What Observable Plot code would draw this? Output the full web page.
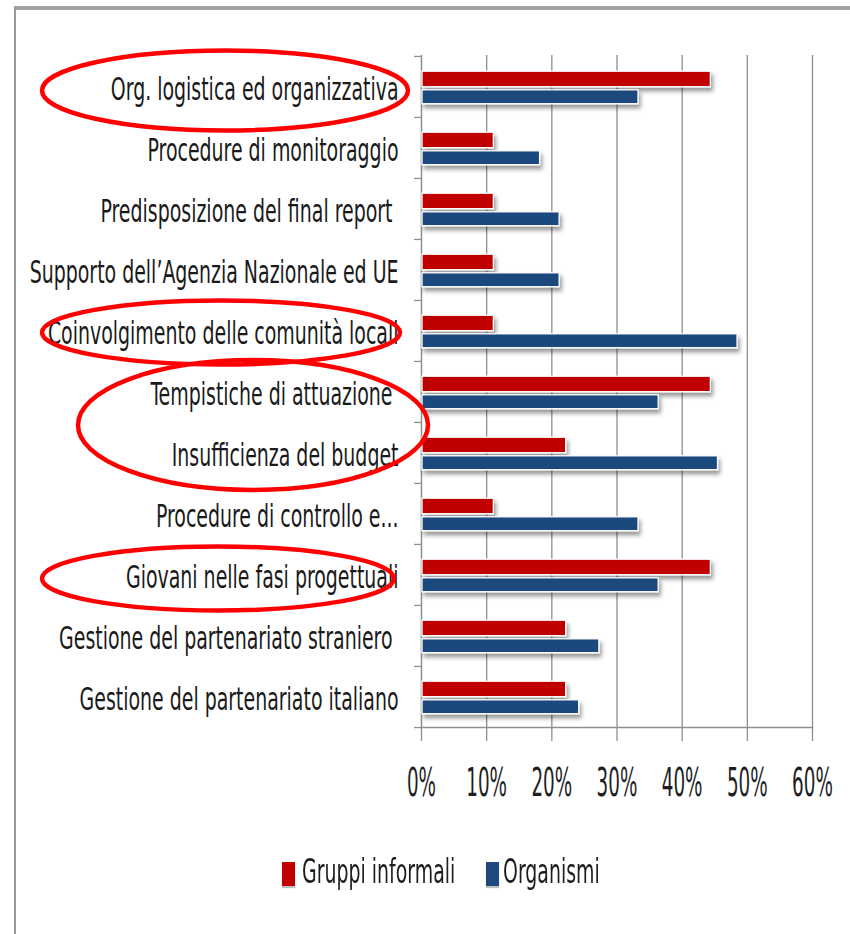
<!DOCTYPE html>
<html>
<head>
<meta charset="utf-8">
<script src="https://cdn.jsdelivr.net/npm/d3@7"></script>
<script src="https://cdn.jsdelivr.net/npm/@observablehq/plot@0.6"></script>
<style>
  html, body { margin: 0; padding: 0; background: #fff; }
  #wrap { position: relative; width: 850px; height: 934px; overflow: hidden; background: #fff; }
  #chart { position: absolute; left: 0; top: 0; }
  #frame { position: absolute; left: 14px; top: 6px; width: 900px; height: 1000px;
           border-top: 4px solid #a2a2a2; border-left: 2px solid #9a9a9a; pointer-events: none; }
  #legend { position: absolute; left: 0; top: 850px; width: 850px; height: 46px;
            font-family: "Liberation Sans Narrow", "Arial Narrow", "DejaVu Sans Condensed", sans-serif;
            font-size: 26px; color: #1e1e1e; }
  #legend .sw { position: absolute; top: 12px; width: 13px; height: 24px;
                box-shadow: 0 2px 1px rgba(0,0,0,0.25); }
  #legend .lab { position: absolute; top: 6px; line-height: 30px; white-space: nowrap;
                 transform: scale(0.81, 1.3); transform-origin: left center; }
</style>
</head>
<body>
<div id="wrap">
  <div id="chart"></div>
  <div id="legend"></div>
  <div id="frame"></div>
</div>
<script>
// ---- data ----
const categories = [
  "Org. logistica ed organizzativa",
  "Procedure di monitoraggio",
  "Predisposizione del final report ",
  "Supporto dell’Agenzia Nazionale ed UE",
  "Coinvolgimento delle comunità locali",
  "Tempistiche di attuazione ",
  "Insufficienza del budget",
  "Procedure di controllo e...",
  "Giovani nelle fasi progettuali",
  "Gestione del partenariato straniero ",
  "Gestione del partenariato italiano"
];
const gruppiInformali = [44.4, 11.1, 11.1, 11.1, 11.1, 44.4, 22.2, 11.1, 44.4, 22.2, 22.2];
const organismi       = [33.3, 18.2, 21.2, 21.2, 48.5, 36.4, 45.5, 33.3, 36.4, 27.3, 24.2];
const seriesNames = ["Gruppi informali", "Organismi"];
const seriesColors = ["#C00000", "#1F497D"];
const xTicks = [0, 0.1, 0.2, 0.3, 0.4, 0.5, 0.6];
// highlighted categories (red hand-drawn ellipses)
const highlights = [
  ["Org. logistica ed organizzativa"],
  ["Coinvolgimento delle comunità locali"],
  ["Tempistiche di attuazione ", "Insufficienza del budget"],
  ["Giovani nelle fasi progettuali"]
];

const rows = categories.map((c, i) => ({cat: c, g: gruppiInformali[i] / 100, o: organismi[i] / 100}));

const FONT = `"Liberation Sans Narrow", "Arial Narrow", "DejaVu Sans Condensed", sans-serif`;
const GRID = "#8f8f8f";

const plot = Plot.plot({
  width: 850,
  height: 850,
  marginLeft: 421,
  marginRight: 38,
  marginTop: 55,
  marginBottom: 123,
  style: {fontFamily: FONT, background: "transparent", overflow: "visible"},
  x: {domain: [0, 0.6]},
  y: {domain: categories, padding: 0},
  marks: [
    Plot.ruleX(xTicks.slice(1), {stroke: GRID, strokeWidth: 1.3}),
    Plot.frame({anchor: "bottom", stroke: GRID, strokeWidth: 1.5}),
    Plot.ruleX([0], {stroke: GRID, strokeWidth: 1.5}),
    Plot.axisX({ticks: xTicks, tickFormat: d3.format(".0%"), tickSize: 14, tickPadding: 26,
                stroke: GRID, strokeWidth: 1.3, fontSize: 24, fill: "#1e1e1e", label: null}),
    Plot.axisY({tickSize: 7, tickFormat: () => "", dy: -672 / 22, stroke: GRID, strokeWidth: 1.3, label: null}),
    Plot.axisY({ticks: [categories[categories.length - 1]], tickSize: 7, tickFormat: () => "",
                dy: 672 / 22, stroke: GRID, strokeWidth: 1.3, label: null}),
    Plot.axisY({tickSize: 0, tickPadding: 23, fontSize: 26, fill: "#1a1a1a", label: null, dy: 3}),
    Plot.barX(rows, {x: "g", y: "cat", fill: seriesColors[0], stroke: "white", strokeWidth: 1.3,
                     insetTop: 15.2, insetBottom: 30.3, insetLeft: 1}),
    Plot.barX(rows, {x: "o", y: "cat", fill: seriesColors[1], stroke: "white", strokeWidth: 1.3,
                     insetTop: 33.8, insetBottom: 13.3, insetLeft: 1})
  ]
});

// drop shadow on bars
const svg = d3.select(plot);
const defs = svg.insert("defs", ":first-child");
const f = defs.append("filter").attr("id", "shadow").attr("x", "-5%").attr("y", "-50%").attr("width", "115%").attr("height", "250%");
f.append("feDropShadow").attr("dx", 2).attr("dy", 4).attr("stdDeviation", 2.2)
  .attr("flood-color", "#000").attr("flood-opacity", 0.4);
svg.selectAll("g[aria-label='bar']").attr("filter", "url(#shadow)");

// squeeze/stretch tick labels (the original is a horizontally squeezed image)
function stretch(sel, sx, sy) {
  plot.querySelectorAll(sel).forEach(t => {
    let tr = t.getAttribute("transform");
    if (!tr) {
      const x = +t.getAttribute("x") || 0, y = +t.getAttribute("y") || 0;
      t.removeAttribute("x"); t.removeAttribute("y");
      tr = `translate(${x},${y})`;
    }
    t.setAttribute("transform", tr + ` scale(${sx},${sy})`);
  });
}
stretch("g[aria-label='y-axis tick label'] text", 0.81, 1.25);
stretch("g[aria-label='x-axis tick label'] text", 0.85, 1.65);

// red annotation ellipses around highlighted labels
const yS = plot.scale("y");
const bw = yS.bandwidth;
const ellSpec = [
  {cx: 225, dy: 4, rx: 183, ry: 40},
  {cx: 221, dy: 2, rx: 179, ry: 32},
  {cx: 253, dy: 3, rx: 175, ry: 65},
  {cx: 218, dy: 4, rx: 176, ry: 32}
];
const ann = svg.append("g").attr("aria-label", "annotations");
highlights.forEach((cats, i) => {
  const cs = cats.map(c => yS.apply(c) + bw / 2);
  const cy = d3.mean(cs) + ellSpec[i].dy;
  ann.append("ellipse")
    .attr("cx", ellSpec[i].cx).attr("cy", cy)
    .attr("rx", ellSpec[i].rx).attr("ry", ellSpec[i].ry)
    .attr("fill", "none").attr("stroke", "#ff0000").attr("stroke-width", 4.5);
});

document.getElementById("chart").appendChild(plot);

// legend
const leg = d3.select("#legend");
const legPos = [{sw: 282, lab: 302}, {sw: 486, lab: 503}];
seriesNames.forEach((n, i) => {
  leg.append("span").attr("class", "sw").style("left", legPos[i].sw + "px").style("background", seriesColors[i]);
  leg.append("span").attr("class", "lab").style("left", legPos[i].lab + "px").text(n);
});
</script>
</body>
</html>
